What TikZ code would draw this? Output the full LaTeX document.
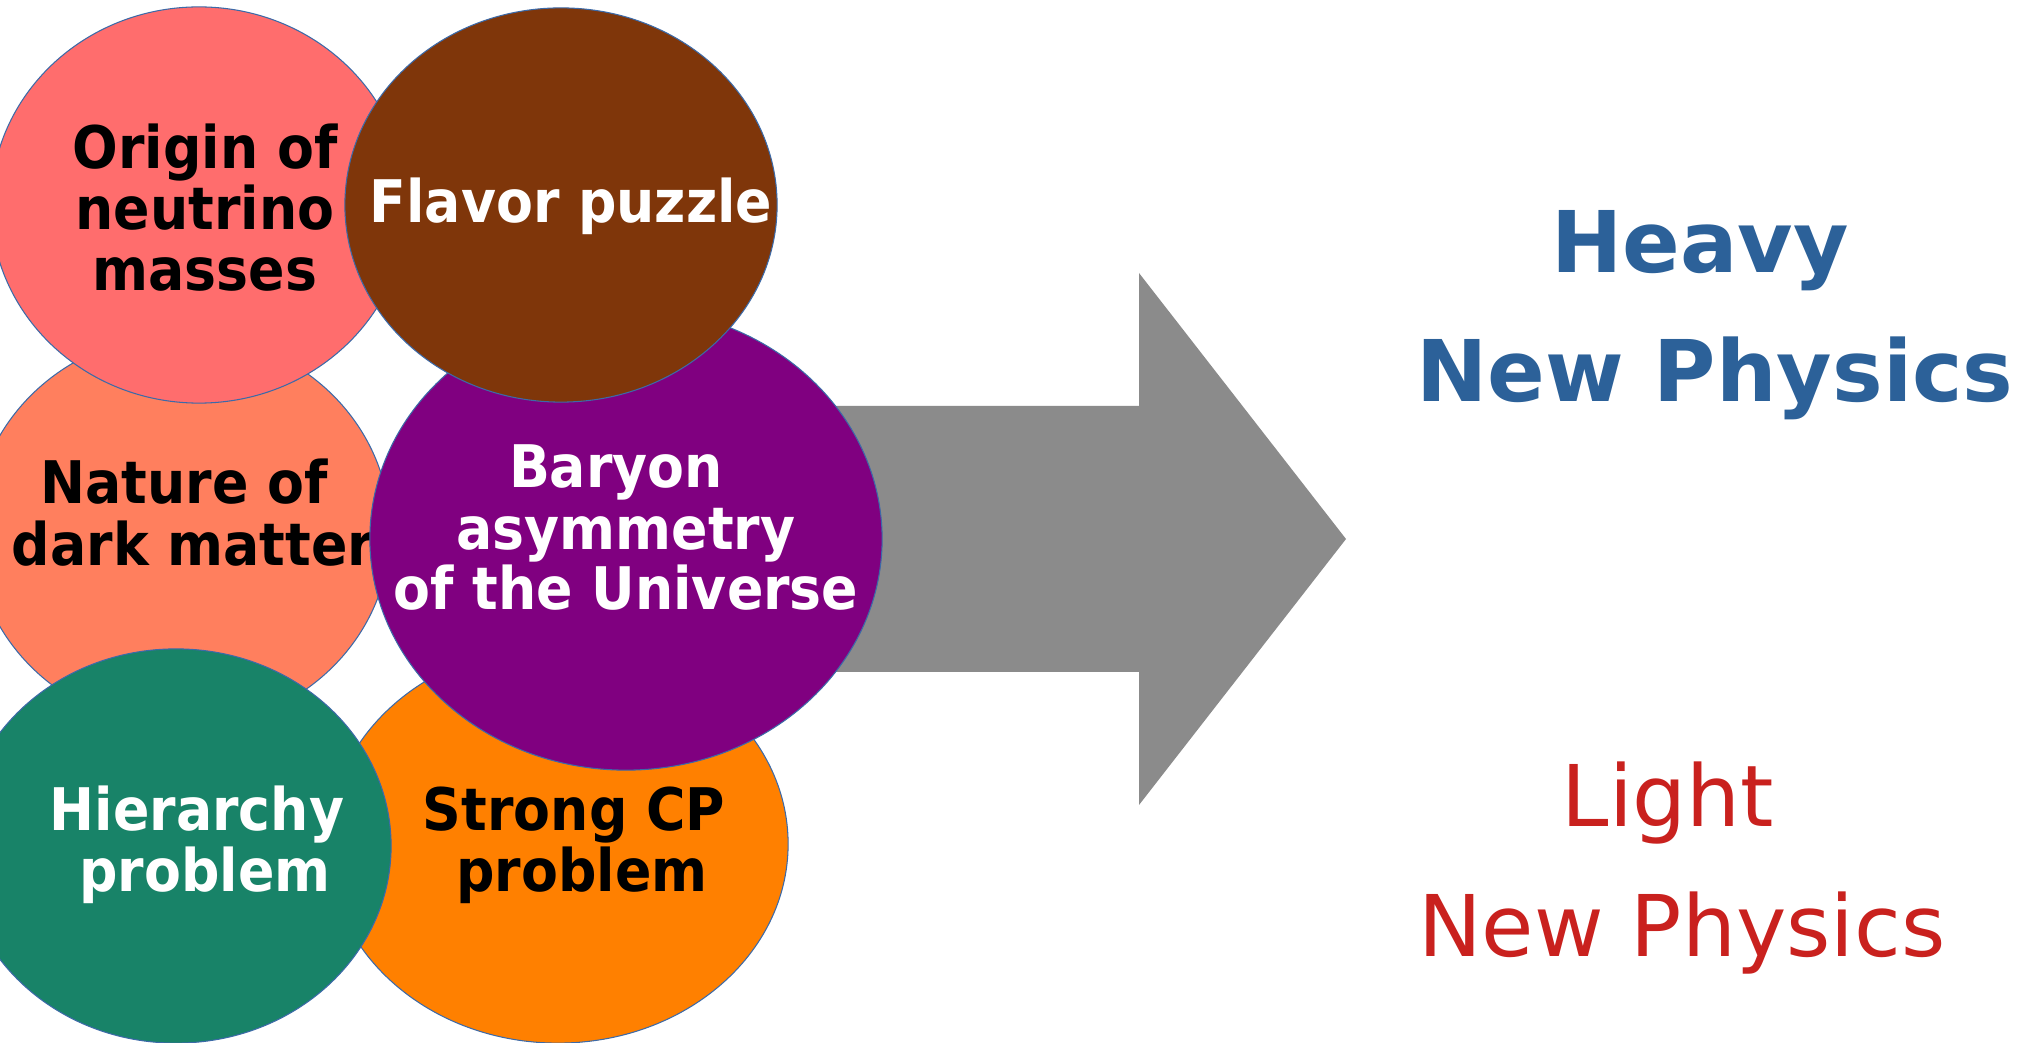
\documentclass[tikz,border=0pt]{standalone}
\usepackage{fontspec}
\setmainfont{DejaVu Sans}
\newfontfamily\condb{DejaVu Sans}[FakeStretch=0.915]
\usetikzlibrary{shapes.geometric}
\definecolor{cpink}{HTML}{FF6D6D}
\definecolor{cbrown}{HTML}{7F360A}
\definecolor{csalmon}{HTML}{FF7F5E}
\definecolor{cpurple}{HTML}{800080}
\definecolor{cgreen}{HTML}{188368}
\definecolor{corange}{HTML}{FF8000}
\definecolor{cgray}{HTML}{8B8B8B}
\definecolor{cblue}{HTML}{2C6199}
\definecolor{cred}{HTML}{C9211E}
\definecolor{cedge}{HTML}{3C6AA8}
\tikzset{
  blob/.style={ellipse, draw=cedge, line width=0.3pt, inner sep=0pt},
  lbl/.style={anchor=base, inner sep=0pt, font=\condb\bfseries\fontsize{16.7}{18}\selectfont},
  big/.style={anchor=base, inner sep=0pt, font=\fontsize{24.2}{28}\selectfont},
}
\begin{document}
\begin{tikzpicture}[x=0.01cm,y=-0.01cm]
\useasboundingbox (0,0) rectangle (2035,1043);
\fill[white] (0,0) rectangle (2035,1043);
% arrow
\coordinate (a1) at (800,406);
\coordinate (a2) at (1139,406);
\coordinate (a3) at (1139,273);
\coordinate (tip) at (1346,539);
\coordinate (a5) at (1139,805);
\coordinate (a6) at (1139,672);
\coordinate (a7) at (800,672);
\fill[cgray] (a1) -- (a2) -- (a3) -- (tip) -- (a5) -- (a6) -- (a7) -- cycle;
% salmon
\node[blob, fill=csalmon, minimum width=4.16cm, minimum height=3.94cm] (dm) at (182,531) {};
\node[lbl] (dm1) at (184,504) {Nature of};
\node[lbl] (dm2) at (193,566) {dark matter};
% orange
\node[blob, fill=corange, minimum width=4.6cm, minimum height=3.98cm] (cp) at (558,844) {};
\node[lbl] (cp1) at (574,831) {Strong CP};
\node[lbl] (cp2) at (582,892) {problem};
% pink
\node[blob, fill=cpink, minimum width=4.16cm, minimum height=3.96cm] (nu) at (199,205) {};
\node[lbl] (nu1) at (205,169) {Origin of};
\node[lbl] (nu2) at (205,230) {neutrino};
\node[lbl] (nu3) at (205,291) {masses};
% green
\node[blob, fill=cgreen, minimum width=4.3cm, minimum height=3.94cm] (hp) at (176,846) {};
\node[lbl, text=white] (hp1) at (197,831) {Hierarchy};
\node[lbl, text=white] (hp2) at (205,892) {problem};
% purple
\node[blob, fill=cpurple, minimum width=5.12cm, minimum height=4.62cm] (bau) at (626,539) {};
\node[lbl, text=white] (bau1) at (616,488) {Baryon};
\node[lbl, text=white] (bau2) at (626,550) {asymmetry};
\node[lbl, text=white] (bau3) at (626,610) {of the Universe};
% brown
\node[blob, fill=cbrown, minimum width=4.32cm, minimum height=3.94cm] (fl) at (561,205) {};
\node[lbl, text=white] (fl1) at (571,223) {Flavor puzzle};
% right texts
\node[big, text=cblue, font=\bfseries\fontsize{24.2}{28}\selectfont] (h1) at (1700,273) {Heavy};
\node[big, text=cblue, font=\bfseries\fontsize{24.2}{28}\selectfont] (h2) at (1715,402) {New Physics};
\node[big, text=cred] (l1) at (1668,827) {Light};
\node[big, text=cred] (l2) at (1682,956) {New Physics};
\end{tikzpicture}
\end{document}
